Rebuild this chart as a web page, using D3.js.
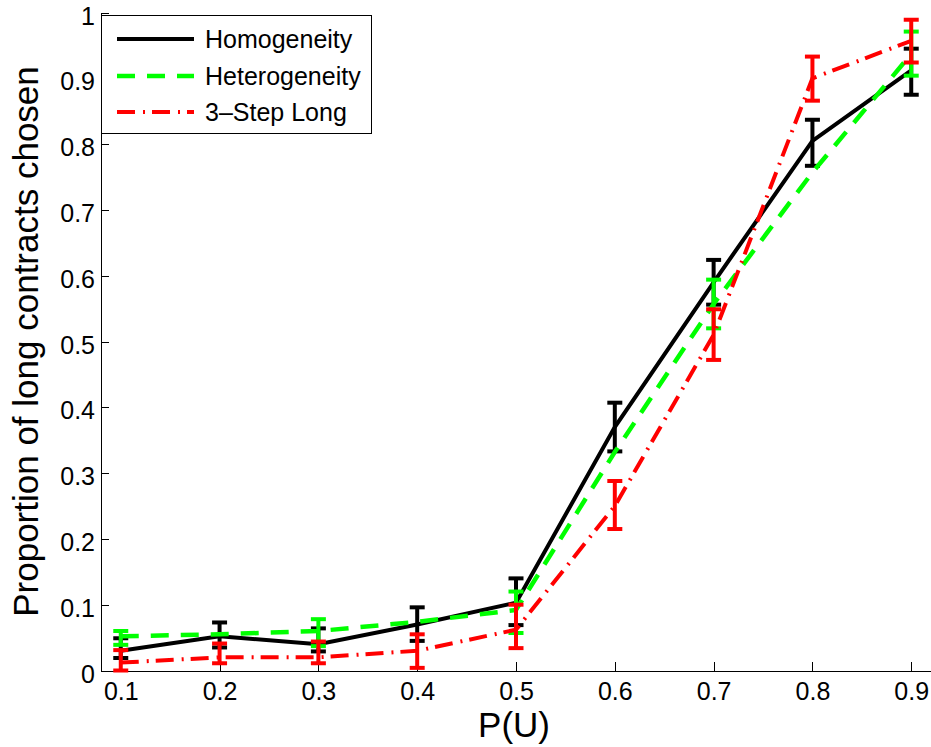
<!DOCTYPE html>
<html>
<head>
<meta charset="utf-8">
<script src="https://cdn.jsdelivr.net/npm/d3@7"></script>
<style>
  body { margin: 0; background: #fff; }
  svg { display: block; font-family: "Liberation Sans", Arial, sans-serif; }
</style>
</head>
<body>
<div id="chart"></div>
<script>
// P(U) values
const pu = [0.1, 0.2, 0.3, 0.4, 0.5, 0.6, 0.7, 0.8, 0.9];

// Homogeneity
const homMean = [0.03, 0.052, 0.04, 0.07, 0.103, 0.37, 0.59, 0.805, 0.912];
const homLow  = [0.019, 0.035, 0.029, 0.045, 0.069, 0.333, 0.556, 0.767, 0.875];
const homHigh = [0.049, 0.073, 0.064, 0.096, 0.14, 0.407, 0.624, 0.837, 0.945];

// Heterogeneity (null = no bar visible)
const hetMean = [0.052, 0.055, 0.06, 0.074, 0.092, 0.332, 0.557, 0.757, 0.937];
const hetLow  = [0.039, null, 0.037, null, 0.057, null, 0.52, null, 0.904];
const hetHigh = [0.06, null, 0.078, null, 0.12, null, 0.594, null, 0.971];

// 3-Step Long
const redMean = [0.012, 0.02, 0.02, 0.03, 0.062, 0.25, 0.51, 0.9, 0.957];
const redLow  = [0.0, 0.011, 0.011, 0.004, 0.034, 0.215, 0.472, 0.866, 0.924];
const redHigh = [0.031, 0.041, 0.044, 0.055, 0.1, 0.288, 0.549, 0.933, 0.989];

const seriesNames = ["Homogeneity", "Heterogeneity", "3\u2013Step Long"];
const yTicks = [0, 0.1, 0.2, 0.3, 0.4, 0.5, 0.6, 0.7, 0.8, 0.9, 1];

const W = 931, H = 747;
const svg = d3.select("#chart").append("svg").attr("width", W).attr("height", H);

const x = d3.scaleLinear().domain([0.08, 0.92]).range([101, 931]);
const y = d3.scaleLinear().domain([0, 1]).range([670.5, 12.5]);

// axes
const xAxis = d3.axisBottom(x).tickValues(pu).tickFormat(d3.format(".1f"))
    .tickSizeInner(-9).tickSizeOuter(0).tickPadding(12);
const yAxis = d3.axisLeft(y).tickValues(yTicks).tickFormat(d => d === 0 ? "0" : d === 1 ? "1" : d3.format(".1f")(d))
    .tickSizeInner(-8).tickSizeOuter(0).tickPadding(6);

const gx = svg.append("g").attr("transform", `translate(0,${y(0)})`).call(xAxis);
const gy = svg.append("g").attr("transform", `translate(${x(0.08)},0)`).call(yAxis);
[gx, gy].forEach(g => {
    g.selectAll("path, line").attr("stroke", "#000").attr("stroke-width", 1).attr("shape-rendering", "crispEdges");
    g.selectAll("text").attr("fill", "#000").attr("font-size", 25)
        .attr("font-family", "'Liberation Sans', Arial, sans-serif");
});
// labels sit a little lower than the ticks, as in the original
gy.selectAll("text").attr("dy", "0.46em");

// series
const series = [
    { mean: homMean, low: homLow, high: homHigh, color: "#000000", dash: null, width: 4 },
    { mean: hetMean, low: hetLow, high: hetHigh, color: "#00ff00", dash: "18 12", width: 4.5 },
    { mean: redMean, low: redLow, high: redHigh, color: "#ff0000", dash: "18 8 2 7", width: 4 }
];

const line = d3.line().x((d, i) => x(pu[i])).y(d => y(d));
const capW = 7.5;

series.forEach(s => {
    svg.append("path")
        .attr("d", line(s.mean))
        .attr("fill", "none")
        .attr("stroke", s.color)
        .attr("stroke-width", s.width)
        .attr("stroke-dasharray", s.dash)
        .attr("stroke-linejoin", "miter");

    const bars = pu.map((p, i) => ({ p, lo: s.low[i], hi: s.high[i] })).filter(d => d.lo !== null);
    const g = svg.append("g").attr("stroke", s.color).attr("stroke-width", 4);
    g.selectAll("line.stem").data(bars).join("line").attr("class", "stem")
        .attr("x1", d => x(d.p)).attr("x2", d => x(d.p))
        .attr("y1", d => y(d.lo)).attr("y2", d => y(d.hi));
    g.selectAll("line.top").data(bars).join("line").attr("class", "top")
        .attr("x1", d => x(d.p) - capW).attr("x2", d => x(d.p) + capW)
        .attr("y1", d => y(d.hi)).attr("y2", d => y(d.hi));
    g.selectAll("line.bot").data(bars).join("line").attr("class", "bot")
        .attr("x1", d => x(d.p) - capW).attr("x2", d => x(d.p) + capW)
        .attr("y1", d => y(d.lo)).attr("y2", d => y(d.lo));
});

// axis titles
svg.append("text")
    .attr("x", 514).attr("y", 737)
    .attr("text-anchor", "middle")
    .attr("font-size", 35)
    .text("P(U)");

svg.append("text")
    .attr("transform", `translate(38,${(y(0) + y(1)) / 2 + 0}) rotate(-90)`)
    .attr("text-anchor", "middle")
    .attr("font-size", 35)
    .text("Proportion of long contracts chosen");

// legend
const lg = svg.append("g");
lg.append("rect")
    .attr("x", 101.5).attr("y", 15.5).attr("width", 270).attr("height", 118)
    .attr("fill", "#fff").attr("stroke", "#000").attr("stroke-width", 1)
    .attr("shape-rendering", "crispEdges");
const rowY = [39, 76, 112];
series.forEach((s, i) => {
    lg.append("line")
        .attr("x1", 117).attr("x2", 194)
        .attr("y1", rowY[i]).attr("y2", rowY[i])
        .attr("stroke", s.color).attr("stroke-width", s.width)
        .attr("stroke-dasharray", s.dash);
    lg.append("text")
        .attr("x", 205).attr("y", rowY[i]).attr("dy", "0.35em")
        .attr("font-size", 25)
        .text(seriesNames[i]);
});
</script>
</body>
</html>
